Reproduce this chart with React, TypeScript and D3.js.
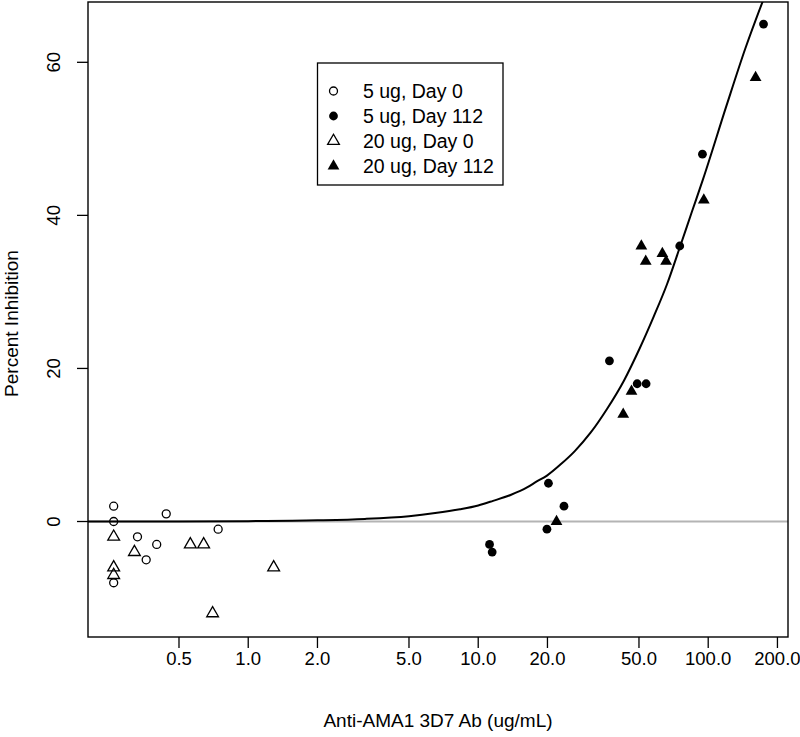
import React from "react";
import * as d3 from "d3";

// ---- data ----
const d0_5ugConc = [0.26, 0.26, 0.26, 0.33, 0.36, 0.40, 0.44, 0.74];
const d0_5ugVal = [2, 0, -8, -2, -5, -3, 1, -1];
const d0_20ugConc = [0.26, 0.26, 0.26, 0.32, 0.56, 0.64, 0.70, 1.29];
const d0_20ugVal = [-2, -6, -7, -4, -3, -3, -12, -6];
const d112_5ugConc = [11.2, 11.5, 19.9, 20.2, 23.6, 37.2, 49.1, 53.7, 75.2, 94.4, 174];
const d112_5ugVal = [-3, -4, -1, 5, 2, 21, 18, 18, 36, 48, 65];
const d112_20ugConc = [21.9, 42.7, 46.4, 51.2, 53.5, 63.2, 65.6, 95.7, 160.7];
const d112_20ugVal = [0, 14, 17, 36, 34, 35, 34, 42, 58];

// fitted curve
const fitConc = [0.2011, 0.5, 1.0, 2.0, 3.22, 5.0, 6.5, 8.33, 10, 11.6, 13.9, 16.3, 17.9, 19.9, 22.9, 26.3, 30.8, 36.3, 43, 50.5, 58, 66.2, 75.4, 85, 94.9, 120, 145, 174.8];
const fitVal = [0, 0.01, 0.05, 0.16, 0.34, 0.7, 1.1, 1.6, 2.1, 2.7, 3.5, 4.45, 5.2, 6.0, 7.5, 9.2, 11.6, 14.7, 18.4, 22.7, 26.8, 31.0, 35.9, 40.5, 44.7, 54.3, 61.8, 68.4];

const xTicks = [0.5, 1, 2, 5, 10, 20, 50, 100, 200];
const xTickLabels = ["0.5", "1.0", "2.0", "5.0", "10.0", "20.0", "50.0", "100.0", "200.0"];
const yTicks = [0, 20, 40, 60];

const legendLabels = ["5 ug, Day 0", "5 ug, Day 112", "20 ug, Day 0", "20 ug, Day 112"];
const legendKinds = ["circleOpen", "circleFilled", "triOpen", "triFilled"];

const FONT = "'Liberation Sans', Arial, Helvetica, sans-serif";

const L = 88, R = 788, T = 2, B = 637;

function Marker({ kind, x, y }: { kind: string; x: number; y: number }) {
  if (kind === "circleOpen")
    return <circle cx={x} cy={y} r={4} fill="none" stroke="#000" strokeWidth={1.3} />;
  if (kind === "circleFilled") return <circle cx={x} cy={y} r={4.4} fill="#000" />;
  const r = 6.8;
  const xc = r * 0.866;
  const yc = r / 2;
  const pts = `${x},${y - r} ${x + xc},${y + yc} ${x - xc},${y + yc}`;
  if (kind === "triOpen")
    return <polygon points={pts} fill="none" stroke="#000" strokeWidth={1.3} strokeLinejoin="miter" />;
  return <polygon points={pts} fill="#000" />;
}

export default function App() {
  const x = d3.scaleLog().domain([0.20106, 222.3]).range([L, R]);
  const y = d3.scaleLinear().domain([-15.09, 67.88]).range([B, T]);

  const line = d3
    .line<number>()
    .x((_, i) => x(fitConc[i]))
    .y((v) => y(v))
    .curve(d3.curveMonotoneX);

  const series = [
    { kind: "circleOpen", c: d0_5ugConc, v: d0_5ugVal },
    { kind: "triOpen", c: d0_20ugConc, v: d0_20ugVal },
    { kind: "circleFilled", c: d112_5ugConc, v: d112_5ugVal },
    { kind: "triFilled", c: d112_20ugConc, v: d112_20ugVal },
  ];

  const fs = 18.5;

  return (
    <svg
      width={800}
      height={737}
      style={{ position: "absolute", left: 0, top: 0, background: "#fff" }}
      fontFamily={FONT}
    >
      <rect x={0} y={0} width={800} height={737} fill="#fff" />
      <defs>
        <clipPath id="plotclip">
          <rect x={L} y={T} width={R - L} height={B - T} />
        </clipPath>
      </defs>
      {/* zero reference line */}
      <line x1={L} x2={R} y1={y(0)} y2={y(0)} stroke="#b4b4b4" strokeWidth={2} />
      {/* fitted curve */}
      <path d={line(fitVal) || ""} fill="none" stroke="#000" strokeWidth={2} clipPath="url(#plotclip)" />
      {/* points */}
      {series.map((s) =>
        s.c.map((c, i) => <Marker key={s.kind + i} kind={s.kind} x={x(c)} y={y(s.v[i])} />)
      )}
      {/* box */}
      <rect x={L} y={T} width={R - L} height={B - T} fill="none" stroke="#000" strokeWidth={1.4} />
      {/* x axis ticks */}
      {xTicks.map((t, i) => (
        <g key={"xt" + i}>
          <line x1={x(t)} x2={x(t)} y1={B} y2={B + 11} stroke="#000" strokeWidth={1.3} />
          <text x={x(t)} y={B + 28} textAnchor="middle" fontSize={fs} fill="#000">
            {xTickLabels[i]}
          </text>
        </g>
      ))}
      {/* y axis ticks */}
      {yTicks.map((t, i) => (
        <g key={"yt" + i}>
          <line x1={L - 11} x2={L} y1={y(t)} y2={y(t)} stroke="#000" strokeWidth={1.3} />
          <text
            transform={`translate(${60},${y(t)}) rotate(-90)`}
            textAnchor="middle"
            fontSize={fs}
            fill="#000"
          >
            {t}
          </text>
        </g>
      ))}
      {/* axis titles */}
      <text x={(L + R) / 2} y={727} textAnchor="middle" fontSize={19} fill="#000">
        Anti-AMA1 3D7 Ab (ug/mL)
      </text>
      <text
        transform={`translate(${18},${(T + B) / 2 + 4}) rotate(-90)`}
        textAnchor="middle"
        fontSize={19}
        fill="#000"
      >
        Percent Inhibition
      </text>
      {/* legend */}
      <rect x={317.5} y={63} width={185.5} height={122} fill="#fff" stroke="#000" strokeWidth={1.3} />
      {legendLabels.map((lab, i) => {
        const ly = 91 + i * 25;
        return (
          <g key={"lg" + i}>
            <Marker kind={legendKinds[i]} x={333.5} y={ly} />
            <text x={363} y={ly + 6.5} fontSize={19.5} fill="#000">
              {lab}
            </text>
          </g>
        );
      })}
    </svg>
  );
}
